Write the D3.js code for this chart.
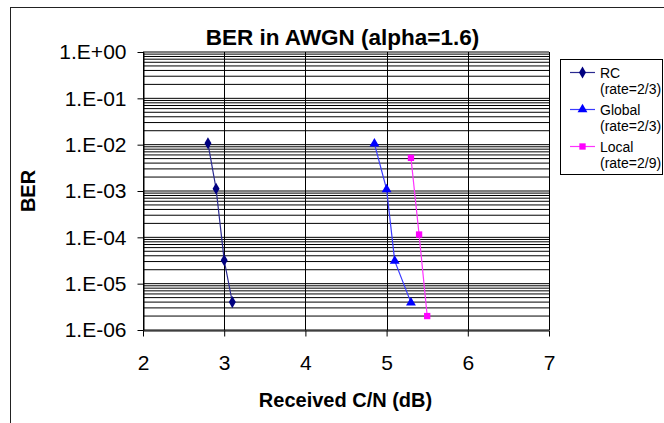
<!DOCTYPE html>
<html>
<head>
<meta charset="utf-8">
<script src="https://cdn.jsdelivr.net/npm/d3@7"></script>
<style>
  html, body { margin: 0; padding: 0; background: #fff; }
  svg { display: block; font-family: "Liberation Sans", Arial, sans-serif; }
</style>
</head>
<body>
<svg id="chart" width="664" height="423"></svg>
<script>
// ---- data ----
const rcX = [2.8, 2.9, 3.0, 3.1];
const rcY = [1.07e-2, 1.12e-3, 3.2e-5, 4.0e-6];
const globalX = [4.85, 5.0, 5.1, 5.3];
const globalY = [1.05e-2, 1.08e-3, 3.1e-5, 3.9e-6];
const localX = [5.3, 5.4, 5.5];
const localY = [5.2e-3, 1.15e-4, 2.0e-6];
const seriesNames = ["RC", "Global", "Local"];
const seriesRates = ["(rate=2/3)", "(rate=2/3)", "(rate=2/9)"];
const xTicks = [2, 3, 4, 5, 6, 7];
const yTicks = [1, 1e-1, 1e-2, 1e-3, 1e-4, 1e-5, 1e-6];
const yTickLabels = ["1.E+00", "1.E-01", "1.E-02", "1.E-03", "1.E-04", "1.E-05", "1.E-06"];
const titleText = "BER in AWGN (alpha=1.6)";
const xTitle = "Received C/N (dB)";
const yTitle = "BER";

// ---- layout ----
const svg = d3.select("#chart");
const pL = 143, pR = 549, pT = 52, pB = 330;
const x = d3.scaleLinear().domain([2, 7]).range([pL, pR]);
const y = d3.scaleLog().domain([1e-6, 1]).range([pB, pT]);

// chart border
svg.append("rect").attr("x", 10.5).attr("y", 7.5).attr("width", 720).attr("height", 500)
  .attr("fill", "#fff").attr("stroke", "#222").attr("stroke-width", 1);

// plot background
svg.append("rect").attr("x", pL).attr("y", pT).attr("width", pR - pL).attr("height", pB - pT)
  .attr("fill", "#fff");

// horizontal grid (major + minor)
const g = svg.append("g");
g.selectAll("line.h").data(y.ticks()).join("line")
  .attr("x1", pL).attr("x2", pR)
  .attr("y1", d => y(d)).attr("y2", d => y(d))
  .attr("stroke", "#000").attr("stroke-width", 1);
// vertical grid
g.selectAll("line.v").data(xTicks).join("line")
  .attr("x1", d => Math.round(x(d)) + 0.5).attr("x2", d => Math.round(x(d)) + 0.5)
  .attr("y1", pT).attr("y2", pB)
  .attr("stroke", "#000").attr("stroke-width", 1);

// axes
const yAxis = d3.axisLeft(y).tickValues(yTicks)
  .tickFormat((d, i) => yTickLabels[i]).tickSizeInner(6).tickSizeOuter(0).tickPadding(11);
const ya = svg.append("g").attr("transform", `translate(${pL + 0.5},0)`).call(yAxis);
ya.select(".domain").attr("stroke", "#000");
ya.selectAll(".tick line").attr("stroke", "#000");
ya.selectAll("text").attr("font-size", 21).attr("fill", "#000")
  .attr("font-family", "'Liberation Sans', Arial, sans-serif");

const xAxis = d3.axisBottom(x).tickValues(xTicks).tickFormat(d3.format("d"))
  .tickSizeInner(6).tickSizeOuter(0).tickPadding(19);
const xa = svg.append("g").attr("transform", `translate(0,${pB + 0.5})`).call(xAxis);
xa.select(".domain").attr("stroke", "#000");
xa.selectAll(".tick line").attr("stroke", "#000");
xa.selectAll("text").attr("font-size", 21).attr("fill", "#000")
  .attr("font-family", "'Liberation Sans', Arial, sans-serif");

// titles
svg.append("text").attr("x", 342.5).attr("y", 45).attr("text-anchor", "middle")
  .attr("font-size", 22.5).attr("font-weight", "bold").text(titleText);
svg.append("text").attr("x", 345.5).attr("y", 407).attr("text-anchor", "middle")
  .attr("font-size", 20).attr("font-weight", "bold").text(xTitle);
svg.append("text").attr("transform", "translate(35,191) rotate(-90)").attr("text-anchor", "middle")
  .attr("font-size", 20).attr("font-weight", "bold").text(yTitle);

// series
const series = [
  { xs: rcX, ys: rcY, line: "#2a2a90", fill: "#000080", sym: d3.symbolDiamond, size: 42 },
  { xs: globalX, ys: globalY, line: "#3a3aff", fill: "#0000ff", sym: d3.symbolTriangle, size: 42 },
  { xs: localX, ys: localY, line: "#ff33ff", fill: "#ff00ff", sym: d3.symbolSquare, size: 40 }
];
const lineGen = d3.line().x(d => x(d[0])).y(d => y(d[1]));
series.forEach(s => {
  const pts = s.xs.map((v, i) => [v, s.ys[i]]);
  svg.append("path").attr("d", lineGen(pts)).attr("fill", "none")
    .attr("stroke", s.line).attr("stroke-width", 1.2);
  svg.selectAll(null).data(pts).join("path")
    .attr("transform", d => `translate(${x(d[0])},${y(d[1])})`)
    .attr("d", d3.symbol().type(s.sym).size(s.size))
    .attr("fill", s.fill);
});

// legend
const lg = svg.append("g");
lg.append("rect").attr("x", 560.5).attr("y", 59.5).attr("width", 102).attr("height", 115)
  .attr("fill", "#fff").attr("stroke", "#000").attr("stroke-width", 1);
const rowBase = [77.5, 114.5, 151.5];
series.forEach((s, i) => {
  const ly = rowBase[i] - 5;
  lg.append("line").attr("x1", 570).attr("x2", 595).attr("y1", ly).attr("y2", ly)
    .attr("stroke", s.line).attr("stroke-width", 1.2);
  lg.append("path").attr("transform", `translate(582.5,${ly})`)
    .attr("d", d3.symbol().type(s.sym).size(s.size)).attr("fill", s.fill);
  lg.append("text").attr("x", 600).attr("y", rowBase[i]).attr("font-size", 14).text(seriesNames[i]);
  lg.append("text").attr("x", 600).attr("y", rowBase[i] + 16.5).attr("font-size", 14).text(seriesRates[i]);
});
</script>
</body>
</html>
